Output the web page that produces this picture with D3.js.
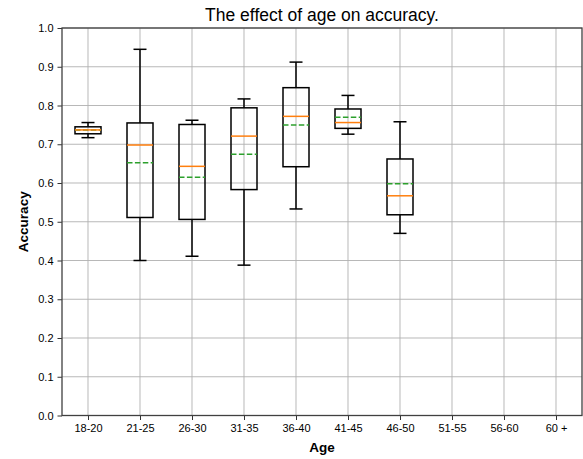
<!DOCTYPE html>
<html>
<head>
<meta charset="utf-8">
<script src="https://cdn.jsdelivr.net/npm/d3@7"></script>
<style>
  html, body { margin: 0; padding: 0; background: #fff; }
  svg { display: block; font-family: "Liberation Sans", Arial, sans-serif; }
</style>
</head>
<body>
<svg id="chart" width="583" height="459"></svg>
<script>
// Age groups on the x axis
const ageGroups = ["18-20", "21-25", "26-30", "31-35", "36-40", "41-45", "46-50", "51-55", "56-60", "60 +"];

// Box statistics per age group (null where a group has no data)
const whiskerLow  = [0.717, 0.400, 0.411, 0.388, 0.533, 0.726, 0.470, null, null, null];
const quartileQ1  = [0.727, 0.511, 0.506, 0.583, 0.642, 0.741, 0.518, null, null, null];
const medians     = [0.737, 0.698, 0.643, 0.721, 0.772, 0.756, 0.567, null, null, null];
const means       = [0.737, 0.652, 0.615, 0.674, 0.750, 0.770, 0.598, null, null, null];
const quartileQ3  = [0.745, 0.755, 0.751, 0.794, 0.846, 0.791, 0.662, null, null, null];
const whiskerHigh = [0.756, 0.945, 0.762, 0.817, 0.912, 0.826, 0.758, null, null, null];

const yTicks = [0.0, 0.1, 0.2, 0.3, 0.4, 0.5, 0.6, 0.7, 0.8, 0.9, 1.0];

const plot = { left: 62, right: 582, top: 28, bottom: 415.5 };

const svg = d3.select("#chart");

const x = d3.scalePoint().domain(ageGroups).range([plot.left, plot.right]).padding(0.5);
const y = d3.scaleLinear().domain([0, 1]).range([plot.bottom, plot.top]);
const step = x.step();
const boxW = step * 0.5;
const capW = step * 0.25;

// Grid lines
const grid = svg.append("g").attr("stroke", "#b0b0b0").attr("stroke-width", 1).attr("stroke-opacity", 0.9);
grid.selectAll("line.gx").data(ageGroups).join("line")
  .attr("x1", d => x(d)).attr("x2", d => x(d))
  .attr("y1", plot.top).attr("y2", plot.bottom);
grid.selectAll("line.gy").data(yTicks).join("line")
  .attr("x1", plot.left).attr("x2", plot.right)
  .attr("y1", d => y(d)).attr("y2", d => y(d));

// Box plot marks
const stats = ageGroups.map((g, i) => ({
  g, lo: whiskerLow[i], q1: quartileQ1[i], med: medians[i], mean: means[i], q3: quartileQ3[i], hi: whiskerHigh[i]
})).filter(d => d.med !== null);

const boxes = svg.append("g").selectAll("g").data(stats).join("g");

boxes.append("line")
  .attr("x1", d => x(d.g)).attr("x2", d => x(d.g))
  .attr("y1", d => y(d.q3)).attr("y2", d => y(d.hi))
  .attr("stroke", "#000").attr("stroke-width", 1.5);
boxes.append("line")
  .attr("x1", d => x(d.g)).attr("x2", d => x(d.g))
  .attr("y1", d => y(d.q1)).attr("y2", d => y(d.lo))
  .attr("stroke", "#000").attr("stroke-width", 1.5);
boxes.append("line")
  .attr("x1", d => x(d.g) - capW / 2).attr("x2", d => x(d.g) + capW / 2)
  .attr("y1", d => y(d.hi)).attr("y2", d => y(d.hi))
  .attr("stroke", "#000").attr("stroke-width", 1.5);
boxes.append("line")
  .attr("x1", d => x(d.g) - capW / 2).attr("x2", d => x(d.g) + capW / 2)
  .attr("y1", d => y(d.lo)).attr("y2", d => y(d.lo))
  .attr("stroke", "#000").attr("stroke-width", 1.5);
boxes.append("rect")
  .attr("x", d => x(d.g) - boxW / 2).attr("width", boxW)
  .attr("y", d => y(d.q3)).attr("height", d => y(d.q1) - y(d.q3))
  .attr("fill", "none").attr("stroke", "#000").attr("stroke-width", 1.5);
boxes.append("line")
  .attr("x1", d => x(d.g) - boxW / 2).attr("x2", d => x(d.g) + boxW / 2)
  .attr("y1", d => y(d.mean)).attr("y2", d => y(d.mean))
  .attr("stroke", "#2ca02c").attr("stroke-width", 1.5).attr("stroke-dasharray", "5.5,2.4");
boxes.append("line")
  .attr("x1", d => x(d.g) - boxW / 2).attr("x2", d => x(d.g) + boxW / 2)
  .attr("y1", d => y(d.med)).attr("y2", d => y(d.med))
  .attr("stroke", "#ff7f0e").attr("stroke-width", 1.5);

// Axes
const xAxis = svg.append("g").attr("transform", `translate(0,${plot.bottom})`)
  .call(d3.axisBottom(x).tickSize(4.5).tickPadding(4));
const yAxis = svg.append("g").attr("transform", `translate(${plot.left},0)`)
  .call(d3.axisLeft(y).tickValues(yTicks).tickFormat(d3.format(".1f")).tickSize(4.5).tickPadding(4));
[xAxis, yAxis].forEach(a => {
  a.select(".domain").remove();
  a.selectAll(".tick line").attr("stroke", "#333").attr("stroke-width", 1);
  a.selectAll(".tick text").attr("fill", "#000").style("font-size", "11px")
    .style("font-family", "'Liberation Sans', Arial, sans-serif");
});

// Frame
svg.append("rect")
  .attr("x", plot.left).attr("y", plot.top)
  .attr("width", plot.right - plot.left).attr("height", plot.bottom - plot.top)
  .attr("fill", "none").attr("stroke", "#404040").attr("stroke-width", 1.3);

// Titles
svg.append("text")
  .attr("x", (plot.left + plot.right) / 2).attr("y", 20.5)
  .attr("text-anchor", "middle").style("font-size", "17.5px").text("The effect of age on accuracy.");
svg.append("text")
  .attr("x", (plot.left + plot.right) / 2).attr("y", 452)
  .attr("text-anchor", "middle").style("font-size", "13.5px").style("font-weight", "bold").text("Age");
svg.append("text")
  .attr("transform", `translate(28,${(plot.top + plot.bottom) / 2}) rotate(-90)`)
  .attr("text-anchor", "middle").style("font-size", "13.5px").style("font-weight", "bold").text("Accuracy");
</script>
</body>
</html>
